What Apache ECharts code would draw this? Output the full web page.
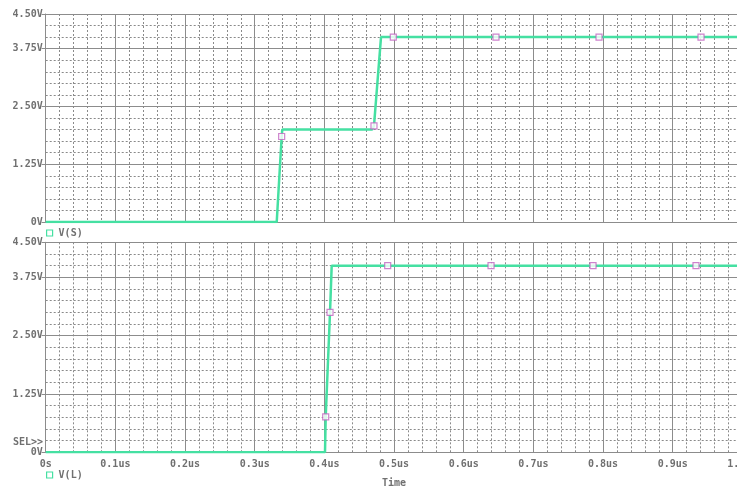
<!DOCTYPE html>
<html>
<head>
<meta charset="utf-8">
<script src="https://cdn.jsdelivr.net/npm/echarts@6/dist/echarts.min.js"></script>
<style>
  html, body { margin: 0; padding: 0; background: #fff; }
  #chart { width: 737px; height: 489px; }
</style>
</head>
<body>
<div id="chart"></div>
<script>
// Transient waveforms: source node V(S) and load node V(L), time in microseconds
const traceNames = ['V(S)', 'V(L)'];

// V(S) trace
const timeS = [0, 0.3316, 0.3387, 0.3396, 0.4684, 0.4712, 0.4813, 1.0];
const voltS = [0, 0, 1.85, 2.0, 2.0, 2.08, 4.0, 4.0];
const markTimeS = [0.3387, 0.4712, 0.4989, 0.6463, 0.7942, 0.9406];
const markVoltS = [1.85, 2.08, 4.0, 4.0, 4.0, 4.0];

// V(L) trace
const timeL = [0, 0.4009, 0.4019, 0.4081, 0.4105, 1.0];
const voltL = [0, 0, 0.76, 3.0, 4.0, 4.0];
const markTimeL = [0.4019, 0.4081, 0.4909, 0.6392, 0.7856, 0.9334];
const markVoltL = [0.76, 3.0, 4.0, 4.0, 4.0, 4.0];

// Axis settings
const timeMin = 0, timeMax = 1.0, timeStep = 0.1;
const voltMin = 0, voltMax = 4.5, voltStep = 1.25, voltMinorStep = 0.25;
const timeTitle = 'Time';
const cursorLabel = 'SEL>>';

const pairs = (xs, ys) => xs.map((x, i) => [x, ys[i]]);

const FONT = 'DejaVu Sans Mono';
const TXT = '#707070';
const TRACE = '#45e0a2';
const MARK = '#c064c0';
const MAJOR = '#8c8c8c';
const MINOR = '#8a8a8a';
const DOTS = [2, 2];

// The plot area runs slightly past the right edge of the window
const grids = [
  { left: 45.7, top: 14, width: 696.7, height: 208, outerBoundsMode: 'none', containLabel: false },
  { left: 45.7, top: 242.3, width: 696.7, height: 210, outerBoundsMode: 'none', containLabel: false }
];

function xAxisFor(gi, showLabels) {
  return {
    type: 'value', gridIndex: gi, min: timeMin, max: timeMax, interval: timeStep,
    position: 'bottom',
    axisLine: { show: true, lineStyle: { color: MAJOR, width: 1 } },
    axisTick: { show: false },
    axisLabel: {
      show: showLabels, color: TXT, fontFamily: FONT, fontSize: 10, fontWeight: 'bold', margin: 7,
      formatter: v => (Math.abs(v) < 1e-9 ? '0s' : v.toFixed(1) + 'us')
    },
    splitLine: { show: true, lineStyle: { color: MAJOR, width: 1 } },
    minorTick: { show: false, splitNumber: 5 },
    minorSplitLine: { show: true, lineStyle: { color: MINOR, width: 1, type: DOTS } },
    name: showLabels ? timeTitle : '',
    nameLocation: 'middle', nameGap: 26,
    nameTextStyle: { color: TXT, fontFamily: FONT, fontSize: 10, fontWeight: 'bold' }
  };
}

function yMinorFor(gi) {
  return {
    type: 'value', gridIndex: gi, min: voltMin, max: voltMax, interval: voltMinorStep,
    position: 'left',
    axisLine: { show: false }, axisTick: { show: false }, axisLabel: { show: false },
    splitLine: { show: true, lineStyle: { color: MINOR, width: 1, type: DOTS } }
  };
}

function yMajorFor(gi) {
  return {
    type: 'value', gridIndex: gi, min: voltMin, max: voltMax, interval: voltStep,
    position: 'left', offset: 0,
    axisLine: { show: true, lineStyle: { color: MAJOR, width: 1 } },
    axisTick: { show: true, length: 4, lineStyle: { color: MAJOR } },
    axisLabel: {
      color: TXT, fontFamily: FONT, fontSize: 10, fontWeight: 'bold', margin: 3,
      formatter: v => (Math.abs(v) < 1e-9 ? '0V' : v.toFixed(2) + 'V')
    },
    splitLine: { show: true, lineStyle: { color: MAJOR, width: 1 } }
  };
}

function traceSeries(name, xi, yi, xs, ys) {
  return {
    name: name, type: 'line', xAxisIndex: xi, yAxisIndex: yi,
    data: pairs(xs, ys), showSymbol: false, animation: false, z: 5,
    lineStyle: { color: TRACE, width: 2.5 }, itemStyle: { color: TRACE }
  };
}

function markerSeries(xi, yi, xs, ys) {
  return {
    type: 'scatter', xAxisIndex: xi, yAxisIndex: yi,
    data: pairs(xs, ys), symbol: 'rect', symbolSize: 6, animation: false, z: 6,
    itemStyle: { color: '#fff', borderColor: MARK, borderWidth: 1.2 }
  };
}

function legendFor(name, top) {
  return {
    data: [name], left: 46, top: top, icon: 'rect', itemWidth: 6, itemHeight: 6, itemGap: 4,
    padding: 0, selectedMode: false,
    itemStyle: { color: '#fff', borderColor: TRACE, borderWidth: 1.2 },
    textStyle: { color: TXT, fontFamily: FONT, fontSize: 10, fontWeight: 'bold', padding: [0, 0, 0, 1] }
  };
}

const chart = echarts.init(document.getElementById('chart'), null, { renderer: 'canvas' });
chart.setOption({
  animation: false,
  backgroundColor: '#fff',
  grid: grids,
  xAxis: [xAxisFor(0, false), xAxisFor(1, true)],
  yAxis: [yMinorFor(0), yMajorFor(0), yMinorFor(1), yMajorFor(1)],
  legend: [legendFor(traceNames[0], 228), legendFor(traceNames[1], 470)],
  graphic: [{
    type: 'text', left: 13, top: 437,
    style: { text: cursorLabel, fill: TXT, font: 'bold 10px ' + FONT }
  }],
  series: [
    traceSeries(traceNames[0], 0, 1, timeS, voltS),
    markerSeries(0, 1, markTimeS, markVoltS),
    traceSeries(traceNames[1], 1, 3, timeL, voltL),
    markerSeries(1, 3, markTimeL, markVoltL)
  ]
});
</script>
</body>
</html>
